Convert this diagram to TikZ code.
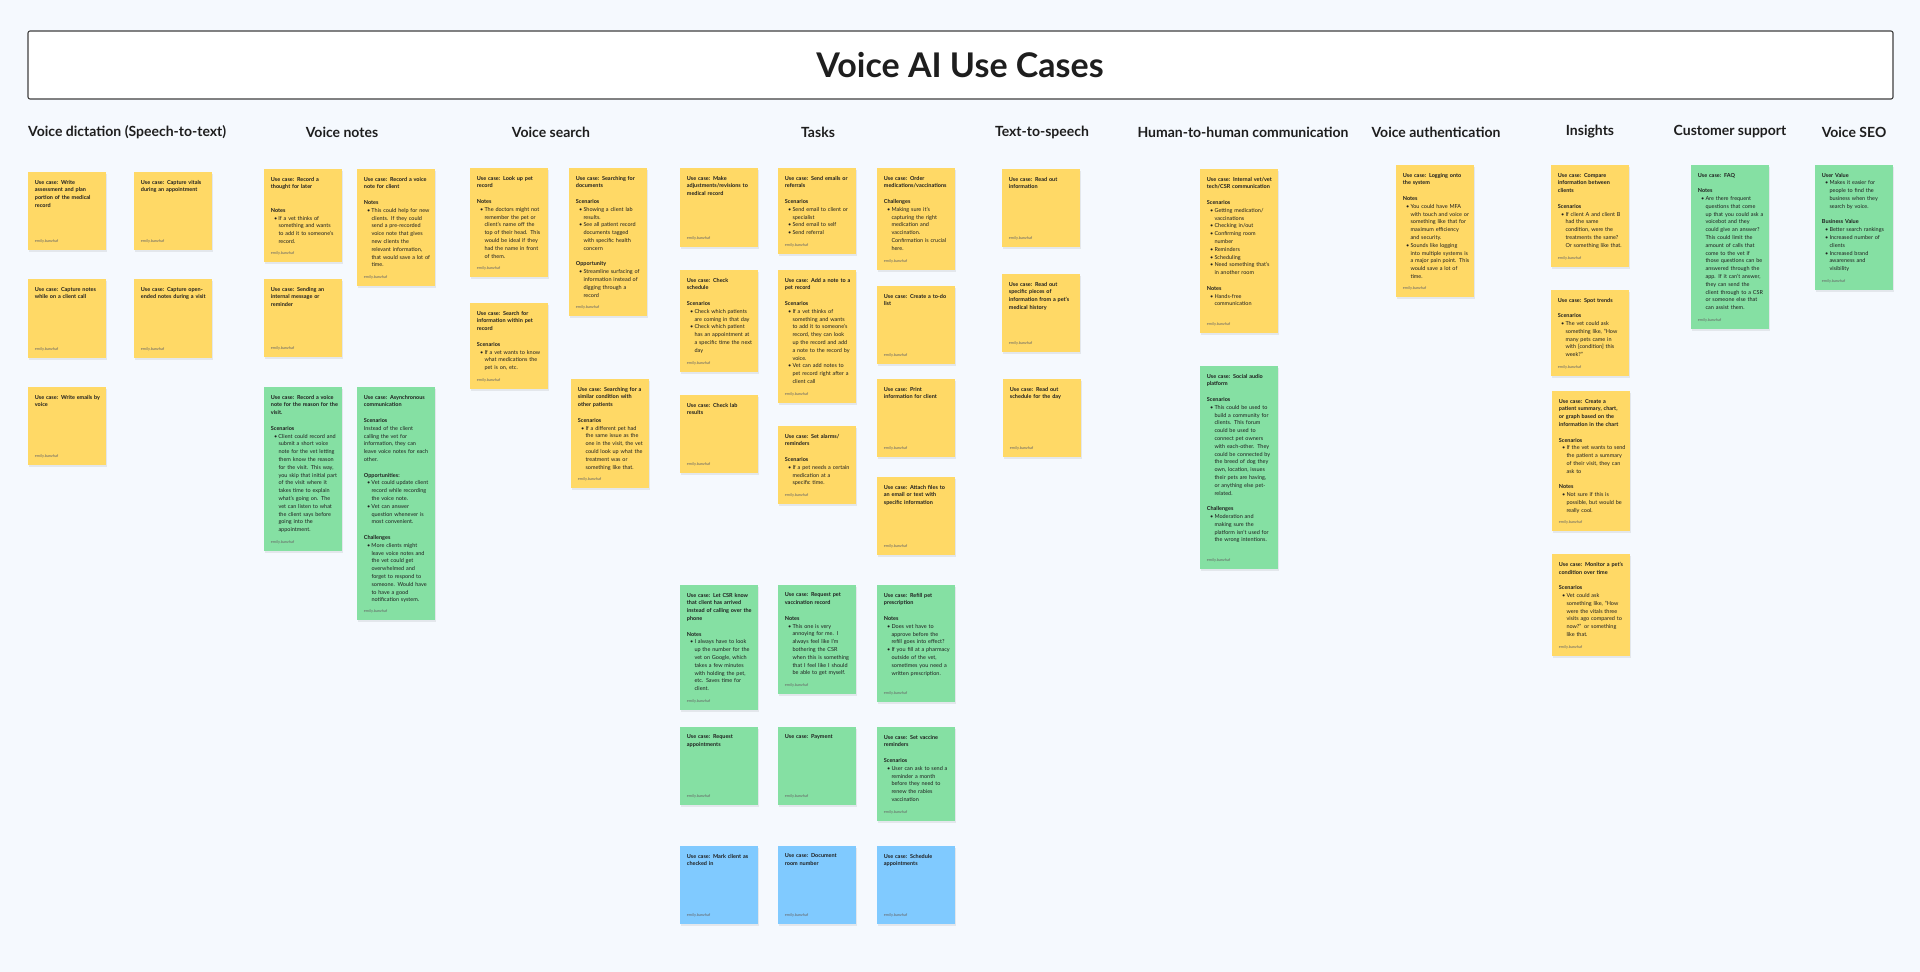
\documentclass[tikz,border=0pt]{standalone}
\usepackage{fontspec}
\setmainfont{Lato}
\usepackage{tikz}

\definecolor{board}{HTML}{F5F9FE}
\definecolor{stickyyellow}{HTML}{FFD966}
\definecolor{stickygreen}{HTML}{85E0A3}
\definecolor{stickyblue}{HTML}{80CAFF}
\definecolor{ink}{HTML}{1E1E1E}

% one sticky: name, left, top, height, colour, text
\newcommand\sticky[6]{%
  \fill[black, opacity=0.07] (#2+0.6,#3+1.8) rectangle ++(78,#4);
  \node[note, fill=#5, minimum height=#4pt, anchor=north west] (#1) at (#2,#3) {};
  \node[notetext, anchor=north west] (#1-t) at ([shift={(6.7pt,-7.8pt)}]#1.north west) {#6};
  \node[author, anchor=base west] (#1-a) at ([shift={(6.7pt,8pt)}]#1.south west) {emily.banzhaf};
}
\newcommand\uc[1]{\textbf{Use case: #1}}
\newcommand\hdr[1]{\textbf{#1}}
\newcommand\skipline{\\[7.8pt]}
\newcommand\bl[1]{\hspace*{3.3pt}\makebox[4.3pt][l]{\textbullet}#1}
\newcommand\cl[1]{\hspace*{7.6pt}#1}

\begin{document}
\begin{tikzpicture}[x=1pt, y=-1pt,
  note/.style={inner sep=0pt, outer sep=0pt, minimum width=78pt},
  notetext/.style={inner sep=0pt, text width=74pt, align=left, text=ink,
    font=\fontsize{5.5}{7.8}\selectfont},
  author/.style={inner sep=0pt, text=black!60, font=\fontsize{3.9}{4}\selectfont},
  heading/.style={inner sep=0pt, text=ink, font=\fontsize{14}{16}\selectfont\bfseries}]
  \useasboundingbox (0,0) rectangle (1920,972);
  \fill[board] (0,0) rectangle (1920,972);

  % title
  \node[draw=ink!85, line width=1.1pt, fill=white, rounded corners=2pt,
    minimum width=1865pt, minimum height=68pt] (titlebox) at (960.5,65) {};
  \node[text=ink, font=\fontsize{34}{40}\selectfont\bfseries] (title) at (960,65) {Voice AI Use Cases};

  % column headings
  \node[heading, anchor=west] (hdictation) at (28,132) {Voice dictation (Speech-to-text)};
  \node[heading] (hnotes) at (342,132) {Voice notes};
  \node[heading] (hsearch) at (551,132) {Voice search};
  \node[heading] (htasks) at (818,132) {Tasks};
  \node[heading] (htts) at (1042,132) {Text-to-speech};
  \node[heading] (hhuman) at (1243,132) {Human-to-human communication};
  \node[heading] (hauth) at (1436,132) {Voice authentication};
  \node[heading] (hinsights) at (1590,132) {Insights};
  \node[heading] (hsupport) at (1730,132) {Customer support};
  \node[heading] (hseo) at (1854,132) {Voice SEO};

  % voice dictation
  \sticky{vd1}{28}{172}{78}{stickyyellow}{\uc{Write\\assessment and plan\\portion of the medical\\record}}
  \sticky{vd2}{134}{172}{78}{stickyyellow}{\uc{Capture vitals\\during an appointment}}
  \sticky{vd3}{28}{279}{79}{stickyyellow}{\uc{Capture notes\\while on a client call}}
  \sticky{vd4}{134}{279}{79}{stickyyellow}{\uc{Capture open-\\ended notes during a visit}}
  \sticky{vd5}{28}{387}{78}{stickyyellow}{\uc{Write emails by\\voice}}

  % voice notes
  \sticky{vn1}{264}{169}{93}{stickyyellow}{\uc{Record a\\thought for later}\\[15.6pt]\hdr{Notes}\\\bl{If a vet thinks of}\\\cl{something and wants}\\\cl{to add it to someone's}\\\cl{record.}}
  \sticky{vn2}{357}{169}{117}{stickyyellow}{\uc{Record a voice\\note for client}\skipline\hdr{Notes}\\\bl{This could help for new}\\\cl{clients. If they could}\\\cl{send a pre-recorded}\\\cl{voice note that gives}\\\cl{new clients the}\\\cl{relevant information,}\\\cl{that would save a lot of}\\\cl{time.}}
  \sticky{vn3}{264}{279}{78}{stickyyellow}{\uc{Sending an\\internal message or\\reminder}}
  \sticky{vn4}{264}{387}{164}{stickygreen}{\uc{Record a voice\\note for the reason for the\\visit.}\skipline\hdr{Scenarios}\\\bl{Client could record and}\\\cl{submit a short voice}\\\cl{note for the vet letting}\\\cl{them know the reason}\\\cl{for the visit. This way,}\\\cl{you skip that initial part}\\\cl{of the visit where it}\\\cl{takes time to explain}\\\cl{what's going on. The}\\\cl{vet can listen to what}\\\cl{the client says before}\\\cl{going into the}\\\cl{appointment.}}
  \sticky{vn5}{357}{387}{233}{stickygreen}{\uc{Asynchronous\\communication}\skipline\hdr{Scenarios}\\Instead of the client\\calling the vet for\\information, they can\\leave voice notes for each\\other.\skipline\hdr{Opportunities:}\\\bl{Vet could update client}\\\cl{record while recording}\\\cl{the voice note.}\\\bl{Vet can answer}\\\cl{question whenever is}\\\cl{most convenient.}\skipline\hdr{Challenges}\\\bl{More clients might}\\\cl{leave voice notes and}\\\cl{the vet could get}\\\cl{overwhelmed and}\\\cl{forget to respond to}\\\cl{someone. Would have}\\\cl{to have a good}\\\cl{notification system.}}

  % voice search
  \sticky{vs1}{470}{168}{109}{stickyyellow}{\uc{Look up pet\\record}\skipline\hdr{Notes}\\\bl{The doctors might not}\\\cl{remember the pet or}\\\cl{client's name off the}\\\cl{top of their head. This}\\\cl{would be ideal if they}\\\cl{had the name in front}\\\cl{of them.}}
  \sticky{vs2}{569}{168}{148}{stickyyellow}{\uc{Searching for\\documents}\skipline\hdr{Scenarios}\\\bl{Showing a client lab}\\\cl{results.}\\\bl{See all patient record}\\\cl{documents tagged}\\\cl{with specific health}\\\cl{concern}\skipline\hdr{Opportunity}\\\bl{Streamline surfacing of}\\\cl{information instead of}\\\cl{digging through a}\\\cl{record}}
  \sticky{vs3}{470}{303}{86}{stickyyellow}{\uc{Search for\\information within pet\\record}\skipline\hdr{Scenarios}\\\bl{If a vet wants to know}\\\cl{what medications the}\\\cl{pet is on, etc.}}
  \sticky{vs4}{571}{379}{109}{stickyyellow}{\uc{Searching for a\\similar condition with\\other patients}\skipline\hdr{Scenarios}\\\bl{If a different pet had}\\\cl{the same issue as the}\\\cl{one in the visit, the vet}\\\cl{could look up what the}\\\cl{treatment was or}\\\cl{something like that.}}

  % tasks
  \sticky{tk1}{680}{168}{79}{stickyyellow}{\uc{Make\\adjustments/revisions to\\medical record}}
  \sticky{tk2}{778}{168}{86}{stickyyellow}{\uc{Send emails or\\referrals}\skipline\hdr{Scenarios}\\\bl{Send email to client or}\\\cl{specialist}\\\bl{Send email to self}\\\bl{Send referral}}
  \sticky{tk3}{877}{168}{102}{stickyyellow}{\uc{Order\\medications/vaccinations}\skipline\hdr{Challenges}\\\bl{Making sure it's}\\\cl{capturing the right}\\\cl{medication and}\\\cl{vaccination.}\\\cl{Confirmation is crucial}\\\cl{here.}}
  \sticky{tk4}{680}{270}{102}{stickyyellow}{\uc{Check\\schedule}\skipline\hdr{Scenarios}\\\bl{Check which patients}\\\cl{are coming in that day}\\\bl{Check which patient}\\\cl{has an appointment at}\\\cl{a specific time the next}\\\cl{day}}
  \sticky{tk5}{778}{270}{133}{stickyyellow}{\uc{Add a note to a\\pet record}\skipline\hdr{Scenarios}\\\bl{If a vet thinks of}\\\cl{something and wants}\\\cl{to add it to someone's}\\\cl{record, they can look}\\\cl{up the record and add}\\\cl{a note to the record by}\\\cl{voice.}\\\bl{Vet can add notes to}\\\cl{pet record right after a}\\\cl{client call}}
  \sticky{tk6}{877}{286}{78}{stickyyellow}{\uc{Create a to-do\\list}}
  \sticky{tk7}{680}{395}{78}{stickyyellow}{\uc{Check lab\\results}}
  \sticky{tk8}{778}{426}{78}{stickyyellow}{\uc{Set alarms/\\reminders}\skipline\hdr{Scenarios}\\\bl{If a pet needs a certain}\\\cl{medication at a}\\\cl{specific time.}}
  \sticky{tk9}{877}{379}{78}{stickyyellow}{\uc{Print\\information for client}}
  \sticky{tk10}{877}{477}{78}{stickyyellow}{\uc{Attach files to\\an email or text with\\specific information}}
  \sticky{tk11}{680}{585}{125}{stickygreen}{\uc{Let CSR know\\that client has arrived\\instead of calling over the\\phone}\skipline\hdr{Notes}\\\bl{I always have to look}\\\cl{up the number for the}\\\cl{vet on Google, which}\\\cl{takes a few minutes}\\\cl{with holding the pet,}\\\cl{etc. Saves time for}\\\cl{client.}}
  \sticky{tk12}{778}{585}{109}{stickygreen}{\uc{Request pet\\vaccination record}\skipline\hdr{Notes}\\\bl{This one is very}\\\cl{annoying for me. I}\\\cl{always feel like I'm}\\\cl{bothering the CSR}\\\cl{when this is something}\\\cl{that I feel like I should}\\\cl{be able to get myself.}}
  \sticky{tk13}{877}{585}{117}{stickygreen}{\uc{Refill pet\\prescription}\skipline\hdr{Notes}\\\bl{Does vet have to}\\\cl{approve before the}\\\cl{refill goes into effect?}\\\bl{If you fill at a pharmacy}\\\cl{outside of the vet,}\\\cl{sometimes you need a}\\\cl{written prescription.}}
  \sticky{tk14}{680}{727}{78}{stickygreen}{\uc{Request\\appointments}}
  \sticky{tk15}{778}{727}{78}{stickygreen}{\uc{Payment}}
  \sticky{tk16}{877}{727}{94}{stickygreen}{\uc{Set vaccine\\reminders}\skipline\hdr{Scenarios}\\\bl{User can ask to send a}\\\cl{reminder a month}\\\cl{before they need to}\\\cl{renew the rabies}\\\cl{vaccination}}
  \sticky{tk17}{680}{846}{78}{stickyblue}{\uc{Mark client as\\checked in}}
  \sticky{tk18}{778}{846}{78}{stickyblue}{\uc{Document\\room number}}
  \sticky{tk19}{877}{846}{78}{stickyblue}{\uc{Schedule\\appointments}}

  % text-to-speech
  \sticky{ts1}{1002}{169}{78}{stickyyellow}{\uc{Read out\\information}}
  \sticky{ts2}{1002}{274}{78}{stickyyellow}{\uc{Read out\\specific pieces of\\information from a pet's\\medical history}}
  \sticky{ts3}{1003}{379}{78}{stickyyellow}{\uc{Read out\\schedule for the day}}

  % human-to-human
  \sticky{hh1}{1200}{169}{164}{stickyyellow}{\uc{Internal vet/vet\\tech/CSR communication}\skipline\hdr{Scenarios}\\\bl{Getting medication/}\\\cl{vaccinations}\\\bl{Checking in/out}\\\bl{Confirming room}\\\cl{number}\\\bl{Reminders}\\\bl{Scheduling}\\\bl{Need something that's}\\\cl{in another room}\skipline\hdr{Notes}\\\bl{Hands-free}\\\cl{communication}}
  \sticky{hh2}{1200}{366}{203}{stickygreen}{\uc{Social audio\\platform}\skipline\hdr{Scenarios}\\\bl{This could be used to}\\\cl{build a community for}\\\cl{clients. This forum}\\\cl{could be used to}\\\cl{connect pet owners}\\\cl{with each-other. They}\\\cl{could be connected by}\\\cl{the breed of dog they}\\\cl{own, location, issues}\\\cl{their pets are having,}\\\cl{or anything else pet-}\\\cl{related.}\skipline\hdr{Challenges}\\\bl{Moderation and}\\\cl{making sure the}\\\cl{platform isn't used for}\\\cl{the wrong intentions.}}

  % voice authentication
  \sticky{va1}{1396}{165}{132}{stickyyellow}{\uc{Logging onto\\the system}\skipline\hdr{Notes}\\\bl{You could have MFA}\\\cl{with touch and voice or}\\\cl{something like that for}\\\cl{maximum efficiency}\\\cl{and security.}\\\bl{Sounds like logging}\\\cl{into multiple systems is}\\\cl{a major pain point. This}\\\cl{would save a lot of}\\\cl{time.}}

  % insights
  \sticky{in1}{1551}{165}{102}{stickyyellow}{\uc{Compare\\information between\\clients}\skipline\hdr{Scenarios}\\\bl{If client A and client B}\\\cl{had the same}\\\cl{condition, were the}\\\cl{treatments the same?}\\\cl{Or something like that.}}
  \sticky{in2}{1551}{290}{86}{stickyyellow}{\uc{Spot trends}\skipline\hdr{Scenarios}\\\bl{The vet could ask}\\\cl{something like, ``How}\\\cl{many pets came in}\\\cl{with [condition] this}\\\cl{week?''}}
  \sticky{in3}{1552}{391}{140}{stickyyellow}{\uc{Create a\\patient summary, chart,\\or graph based on the\\information in the chart}\skipline\hdr{Scenarios}\\\bl{If the vet wants to send}\\\cl{the patient a summary}\\\cl{of their visit, they can}\\\cl{ask to}\skipline\hdr{Notes}\\\bl{Not sure if this is}\\\cl{possible, but would be}\\\cl{really cool.}}
  \sticky{in4}{1552}{554}{102}{stickyyellow}{\uc{Monitor a pet's\\condition over time}\skipline\hdr{Scenarios}\\\bl{Vet could ask}\\\cl{something like, ``How}\\\cl{were the vitals three}\\\cl{visits ago compared to}\\\cl{now?'' or something}\\\cl{like that.}}

  % customer support
  \sticky{cs1}{1691}{165}{164}{stickygreen}{\uc{FAQ}\skipline\hdr{Notes}\\\bl{Are there frequent}\\\cl{questions that come}\\\cl{up that you could ask a}\\\cl{voicebot and they}\\\cl{could give an answer?}\\\cl{This could limit the}\\\cl{amount of calls that}\\\cl{come to the vet if}\\\cl{those questions can be}\\\cl{answered through the}\\\cl{app. If it can't answer,}\\\cl{they can send the}\\\cl{client through to a CSR}\\\cl{or someone else that}\\\cl{can assist them.}}

  % voice SEO
  \sticky{seo1}{1815}{165}{125}{stickygreen}{\hdr{User Value}\\\bl{Makes it easier for}\\\cl{people to find the}\\\cl{business when they}\\\cl{search by voice.}\skipline\hdr{Business Value}\\\bl{Better search rankings}\\\bl{Increased number of}\\\cl{clients}\\\bl{Increased brand}\\\cl{awareness and}\\\cl{visibility}}
\end{tikzpicture}
\end{document}
